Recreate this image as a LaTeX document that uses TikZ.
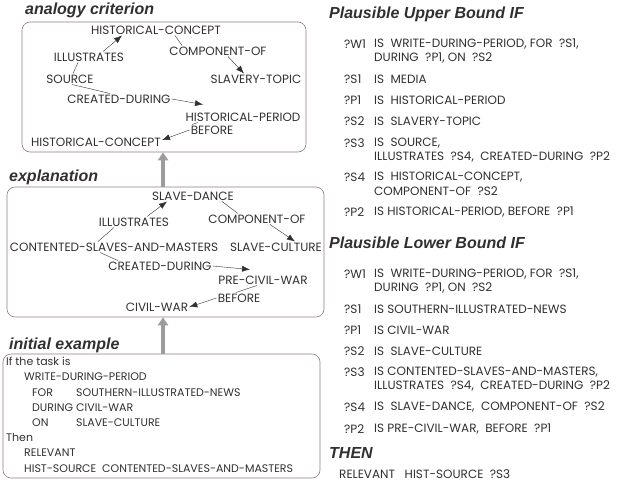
\documentclass[tikz,border=0pt]{standalone}
\usepackage{fontspec}
\setmainfont{Poppins}
\newfontfamily\headfont{Liberation Sans}
\usetikzlibrary{arrows.meta}
\definecolor{ink}{HTML}{303030}
\definecolor{framecol}{HTML}{8E7F7B}
\definecolor{liftcol}{HTML}{9C9C9C}

\begin{document}
\begin{tikzpicture}[x=1pt, y=-1pt,
    every node/.style={text=ink, inner sep=1pt},
    box/.style={draw=framecol, rounded corners=8pt, semithick},
    concept/.style={font=\fontsize{12}{14}\selectfont},
    example/.style={font=\fontsize{11}{15.2}\selectfont, align=left},
    rule/.style={font=\fontsize{12}{14}\selectfont, anchor=west},
    title/.style={font=\headfont\bfseries\itshape\fontsize{16}{18}\selectfont, anchor=west},
    link/.style={draw=ink, thin},
    rel/.style={draw=ink, thin, -{Latex[length=8pt, width=6pt]}},
    lift/.style={draw=liftcol, line width=4pt, -{Triangle[length=8pt, width=10pt]}}]
    \useasboundingbox (0,0) rectangle (631,482);

    % Draw the three frames
    \node[box, minimum width=284pt, minimum height=130pt] (analog) at (164,87) {};
    \node[box, minimum width=317pt, minimum height=130pt] (expl) at (165.5,252) {};
    \node[box, minimum width=317pt, minimum height=124pt] (init) at (161.5,416) {};

    \node[title] (tanalog) at (24,10) {analogy criterion};
    \node[title] (texpl) at (8,177) {explanation};
    \node[title] (tinit) at (8,345) {initial example};

    % Draw the lifting arrows
    \draw[lift] (expl.north -| 163,0) -- (analog.south -| 163,0);
    \draw[lift] (init.north -| 163,0) -- (expl.south -| 163,0);

    % Draw the analogy criterion
    \node[concept] (ahc) at (156,30) {HISTORICAL-CONCEPT};
    \node[concept] (aill) at (89,57) {ILLUSTRATES};
    \node[concept] (acomp) at (218,51) {COMPONENT-OF};
    \node[concept] (asrc) at (70,79) {SOURCE};
    \node[concept] (atopic) at (256,79) {SLAVERY-TOPIC};
    \node[concept] (acd) at (119,99) {CREATED-DURING};
    \node[concept] (aper) at (243,117) {HISTORICAL-PERIOD};
    \node[concept] (abef) at (212,130) {BEFORE};
    \node[concept] (ahc2) at (96,142) {HISTORICAL-CONCEPT};

    \draw[link] ([xshift=3pt]asrc.north) -- ([xshift=-11pt]aill.south);
    \draw[rel] ([xshift=14pt]aill.north) -- ([xshift=-34pt]ahc.south);
    \draw[link] ([xshift=19pt]ahc.south) -- ([xshift=-36pt]acomp.north);
    \draw[rel] ([xshift=10pt]acomp.south) -- ([xshift=-12pt]atopic.north);
    \draw[link] ([xshift=2pt]asrc.south) -- ([xshift=-9pt]acd.north);
    \draw[rel] (acd.east) -- ([xshift=-40pt, yshift=7pt]aper.north);
    \draw[link] ([xshift=-45pt]aper.south) -- ([xshift=-20pt]abef.north);
    \draw[rel] (abef.west) -- ([yshift=2pt]ahc2.east);

    % Draw the explanation
    \node[concept] (esd) at (193,196) {SLAVE-DANCE};
    \node[concept] (eill) at (134,222) {ILLUSTRATES};
    \node[concept] (ecomp) at (257,219) {COMPONENT-OF};
    \node[concept] (econt) at (114,247) {CONTENTED-SLAVES-AND-MASTERS};
    \node[concept] (esc) at (276,247) {SLAVE-CULTURE};
    \node[concept] (ecd) at (160,266) {CREATED-DURING};
    \node[concept] (epcw) at (263,280) {PRE-CIVIL-WAR};
    \node[concept] (ebef) at (239,298) {BEFORE};
    \node[concept] (ecw) at (157,307) {CIVIL-WAR};

    \draw[link] ([xshift=-16pt]econt.north) -- ([xshift=-20pt]eill.south);
    \draw[rel] ([xshift=13pt]eill.north) -- ([xshift=-26pt]esd.south);
    \draw[link] ([xshift=29pt]esd.south) -- ([xshift=-19pt]ecomp.north);
    \draw[rel] ([xshift=13pt]ecomp.south) -- ([xshift=19pt]esc.north);
    \draw[link] ([xshift=-14pt]econt.south) -- ([xshift=-42pt]ecd.north);
    \draw[rel] (ecd.east) -- ([xshift=-13pt, yshift=5pt]epcw.north);
    \draw[link] ([xshift=-6pt]epcw.south) -- ([xshift=-3pt]ebef.north);
    \draw[rel] (ebef.west) -- (ecw.east);

    % Write the initial example
    \node[example, anchor=north west] (task) at (5,356) {If the task is\\
      \hspace*{18pt}WRITE-DURING-PERIOD\\
      \hspace*{26pt}\makebox[44pt][l]{FOR}SOUTHERN-ILLUSTRATED-NEWS\\
      \hspace*{26pt}\makebox[44pt][l]{DURING}CIVIL-WAR\\
      \hspace*{26pt}\makebox[44pt][l]{ON}SLAVE-CULTURE\\
      Then\\
      \hspace*{18pt}RELEVANT\\
      \hspace*{18pt}HIST-SOURCE\ \ CONTENTED-SLAVES-AND-MASTERS};

    % Write the upper bound
    \node[title] (tupper) at (328,14) {Plausible Upper Bound IF};
    \node[rule] (uw1) at (343,44) {?W1};
    \node[rule] (uw1a) at (373,44) {IS\ \ WRITE-DURING-PERIOD, FOR\ \ ?S1,};
    \node[rule] (uw1b) at (373,58) {DURING\ \ ?P1, ON\ \ ?S2};
    \node[rule] (us1) at (343,79) {?S1};
    \node[rule] (us1a) at (373,79) {IS\ \ MEDIA};
    \node[rule] (up1) at (343,100) {?P1};
    \node[rule] (up1a) at (373,100) {IS\ \ HISTORICAL-PERIOD};
    \node[rule] (us2) at (343,121) {?S2};
    \node[rule] (us2a) at (373,121) {IS\ \ SLAVERY-TOPIC};
    \node[rule] (us3) at (343,143) {?S3};
    \node[rule] (us3a) at (373,143) {IS\ \ SOURCE,};
    \node[rule] (us3b) at (373,157) {ILLUSTRATES\ \ ?S4,\ \ CREATED-DURING\ \ ?P2};
    \node[rule] (us4) at (343,177) {?S4};
    \node[rule] (us4a) at (373,177) {IS\ \ HISTORICAL-CONCEPT,};
    \node[rule] (us4b) at (373,191) {COMPONENT-OF\ \ ?S2};
    \node[rule] (up2) at (343,212) {?P2};
    \node[rule] (up2a) at (373,212) {IS HISTORICAL-PERIOD, BEFORE\ \ ?P1};

    % Write the lower bound
    \node[title] (tlower) at (328,243) {Plausible Lower Bound IF};
    \node[rule] (lw1) at (343,274) {?W1};
    \node[rule] (lw1a) at (373,274) {IS\ \ WRITE-DURING-PERIOD, FOR\ \ ?S1,};
    \node[rule] (lw1b) at (373,288) {DURING\ \ ?P1, ON\ \ ?S2};
    \node[rule] (ls1) at (343,309) {?S1};
    \node[rule] (ls1a) at (373,309) {IS SOUTHERN-ILLUSTRATED-NEWS};
    \node[rule] (lp1) at (343,330) {?P1};
    \node[rule] (lp1a) at (373,330) {IS CIVIL-WAR};
    \node[rule] (ls2) at (343,351) {?S2};
    \node[rule] (ls2a) at (373,351) {IS\ \ SLAVE-CULTURE};
    \node[rule] (ls3) at (343,372) {?S3};
    \node[rule] (ls3a) at (373,372) {IS CONTENTED-SLAVES-AND-MASTERS,};
    \node[rule] (ls3b) at (373,386) {ILLUSTRATES\ \ ?S4,\ \ CREATED-DURING\ \ ?P2};
    \node[rule] (ls4) at (343,407) {?S4};
    \node[rule] (ls4a) at (373,407) {IS\ \ SLAVE-DANCE,\ \ COMPONENT-OF\ \ ?S2};
    \node[rule] (lp2) at (343,429) {?P2};
    \node[rule] (lp2a) at (373,429) {IS PRE-CIVIL-WAR,\ \ BEFORE\ \ ?P1};

    \node[title] (tthen) at (328,453) {THEN};
    \node[rule] (rel) at (338,474) {RELEVANT\ \ \ HIST-SOURCE\ \ ?S3};
\end{tikzpicture}
\end{document}
